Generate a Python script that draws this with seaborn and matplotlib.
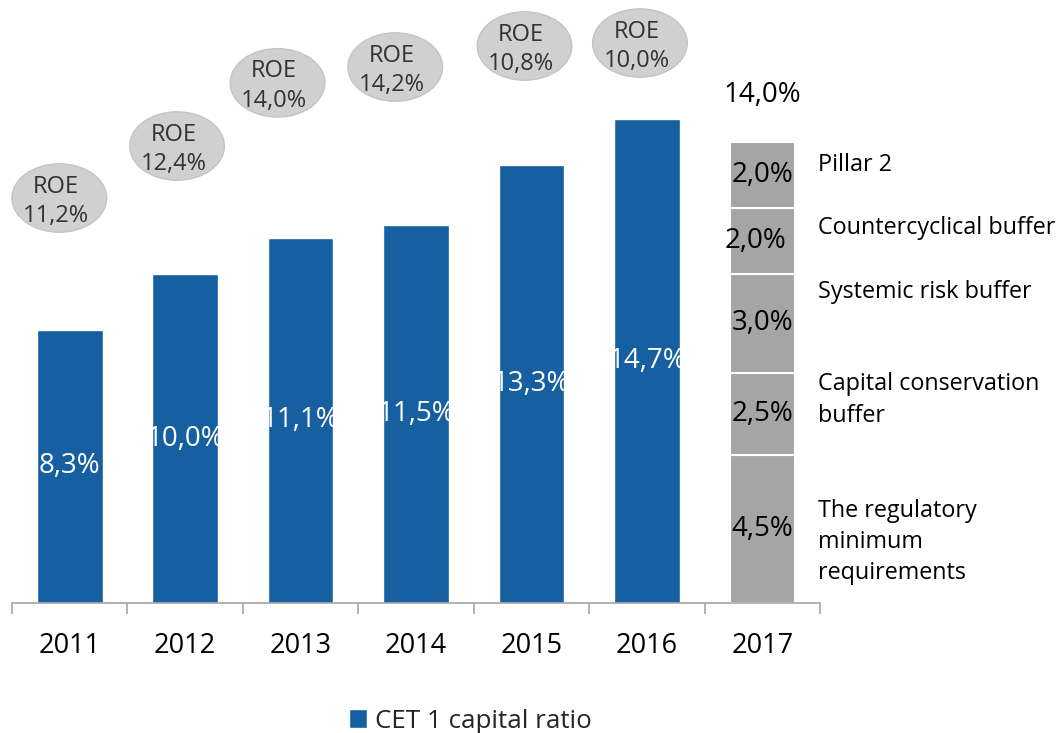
import numpy as np
import pandas as pd
import seaborn as sns
import matplotlib
matplotlib.use("Agg")
import matplotlib.pyplot as plt
from matplotlib.patches import Ellipse, Patch
from matplotlib.ticker import FixedLocator

# ---- data ----
years = ["2011", "2012", "2013", "2014", "2015", "2016", "2017"]
cet1 = [8.3, 10.0, 11.1, 11.5, 13.3, 14.7]
roe = [11.2, 12.4, 14.0, 14.2, 10.8, 10.0]
req_year = "2017"
req_labels = ["The regulatory\nminimum\nrequirements", "Capital conservation\nbuffer",
              "Systemic risk buffer", "Countercyclical buffer", "Pillar 2"]
req_values = [4.5, 2.5, 3.0, 2.0, 2.0]
series_name = "CET 1 capital ratio"

# ---- layout (not data) ----
BLUE = "#1660A2"
GRAY = "#A5A5A5"
ell_dx = [-0.09, -0.07, -0.20, -0.18, -0.06, -0.06]
ell_y = [12.31, 13.89, 15.81, 16.29, 16.93, 17.02]
req_label_y = [1.85, 6.17, 9.45, 11.40, 13.31]
seg_label_dx = [0.0, 0.0, 0.0, -0.06, 0.0]
px_per_unit = 32.9


def fmt(v):
    return f"{v:.1f}%".replace(".", ",")


sns.set_theme(style="white")
plt.rcParams["font.family"] = ["Open Sans", "DejaVu Sans"]

fig = plt.figure(figsize=(10.59, 7.33), dpi=100)
ax = fig.add_axes([12 / 1059, 1 - 603 / 733, 808 / 1059, 603 / 733])

df = pd.DataFrame({"year": years[:len(cet1)], "cet1": cet1})
sns.barplot(data=df, x="year", y="cet1", order=years, color=BLUE,
            saturation=1, width=0.57, ax=ax)

# stacked requirements bar
pos = years.index(req_year)
bottoms = np.concatenate([[0], np.cumsum(req_values)[:-1]])
ax.bar([pos] * len(req_values), req_values, bottom=bottoms, width=0.56,
       color=GRAY, edgecolor="white", linewidth=1.5, zorder=2)

ax.set_xlim(-0.5, len(years) - 0.5)
ax.set_ylim(0, 603 / px_per_unit)
ax.set_yticks([])
ax.set_xlabel("")
ax.set_ylabel("")
for s in ["left", "top", "right"]:
    ax.spines[s].set_visible(False)
ax.spines["bottom"].set_color("#A6A6A6")
ax.spines["bottom"].set_linewidth(1.2)
ax.xaxis.set_minor_locator(FixedLocator(np.arange(-0.5, len(years), 1.0)))
ax.tick_params(axis="x", which="minor", bottom=True, length=8, width=1.2,
               color="#A6A6A6", direction="out")
ax.tick_params(axis="x", which="major", length=0, pad=21, labelsize=19.5,
               labelcolor="black")

# CET1 labels
for i, v in enumerate(cet1):
    ax.text(i, v / 2, fmt(v), color="white", ha="center", va="center",
            fontsize=20, zorder=5)

# segment labels
for b, v, dx in zip(bottoms, req_values, seg_label_dx):
    ax.text(pos + dx, b + v / 2, fmt(v), color="black", ha="center",
            va="center", fontsize=20, zorder=5)
ax.text(pos, sum(req_values) + 1.45, fmt(sum(req_values)), color="black",
        ha="center", va="center", fontsize=20)

# right side labels
for lab, y in zip(req_labels, req_label_y):
    ax.text(len(years) - 0.52, y, lab, ha="left", va="center", fontsize=16.8,
            color="black", linespacing=1.4, clip_on=False)

# ROE ellipses
for i, (r, dx, y) in enumerate(zip(roe, ell_dx, ell_y)):
    e = Ellipse((i + dx, y), width=0.82, height=2.08, facecolor="#D0D0D0",
                edgecolor="#C4C4C4", linewidth=1, clip_on=False, zorder=3)
    ax.add_patch(e)
    ax.text(i + dx - 0.03, y - 0.1, f"ROE\n{fmt(r)}", ha="center", va="center",
            fontsize=17, color="#333333", linespacing=1.3, zorder=4,
            clip_on=False)

fig.legend(handles=[Patch(facecolor=BLUE)], labels=[series_name], loc="center",
           bbox_to_anchor=(470 / 1059, 1 - 721 / 733), frameon=False,
           fontsize=18.7, handlelength=0.7, handleheight=0.7,
           handletextpad=0.3)

fig.savefig("out.png", dpi=100)
